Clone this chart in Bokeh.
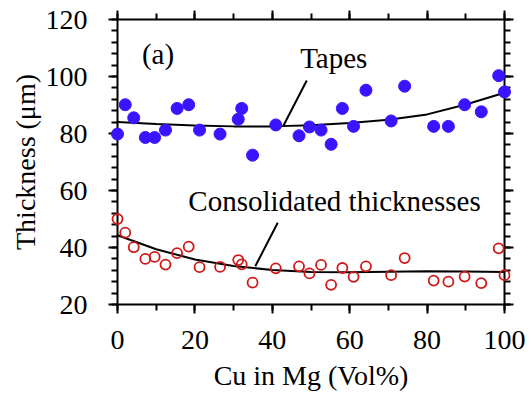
from bokeh.plotting import figure
from bokeh.models import (LinearAxis, SingleIntervalTicker, Range1d, Label,
                          CustomJSTickFormatter)
from bokeh.embed import file_html
from bokeh.resources import INLINE

# Cu content of each sample (vol%)
cu_vol = [0, 2.0, 4.2, 7.2, 9.6, 12.4, 15.4, 18.4, 21.2, 26.5, 31.2, 32.1, 34.9,
          40.9, 46.9, 49.6, 52.6, 55.2, 58.1, 61.0, 64.2, 70.7, 74.2, 81.7,
          85.5, 89.7, 94.0, 98.5, 100]

# Thickness of the cast tapes (um)
tape_thickness = [79.8, 90.1, 85.5, 78.6, 78.6, 81.2, 88.8, 90.1, 81.2, 79.8,
                  85.0, 88.8, 72.4, 83.0, 79.2, 82.3, 81.2, 76.2, 88.8, 82.5,
                  95.2, 84.4, 96.6, 82.5, 82.5, 90.1, 87.6, 100.3, 94.6]

# Thickness after consolidation (um)
consolidated_thickness = [50.0, 45.2, 40.1, 36.0, 36.7, 34.0, 38.0, 40.3, 33.1,
                          33.2, 35.6, 34.1, 27.7, 32.7, 33.4, 30.9, 33.9, 26.9,
                          32.8, 29.7, 33.4, 30.3, 36.3, 28.4, 28.0, 29.8, 27.5,
                          39.7, 30.3]

# Trend curves
fit_x = [0, 10, 20, 30, 40, 50, 60, 70, 80, 90, 100]
tape_fit = [84.0, 83.3, 82.8, 82.5, 82.5, 82.9, 83.7, 84.8, 86.7, 90.2, 94.3]
consolidated_fit = [44.3, 39.4, 35.8, 33.5, 32.1, 31.4, 31.3, 31.5, 31.7, 31.6, 31.4]

FONT = "Liberation Serif"

p = figure(frame_width=387, frame_height=285,
           min_border_left=117, min_border_right=27,
           min_border_top=19, min_border_bottom=95,
           x_range=Range1d(0, 100), y_range=Range1d(20, 120),
           output_backend="svg", toolbar_location=None,
           x_axis_location=None, y_axis_location=None)
p.grid.visible = False
p.outline_line_color = None
p.background_fill_color = "white"
p.border_fill_color = "white"


def style_axis(ax, ticker, labels=True):
    ax.ticker = ticker
    ax.axis_line_color = "black"
    ax.axis_line_width = 2
    ax.major_tick_line_color = "black"
    ax.major_tick_line_width = 2
    ax.minor_tick_line_color = "black"
    ax.minor_tick_line_width = 2
    ax.major_tick_in = 0
    ax.major_tick_out = 9
    ax.minor_tick_in = 0
    ax.minor_tick_out = 6
    ax.major_label_text_font = FONT
    ax.major_label_text_font_size = "28px"
    ax.major_label_text_color = "black"
    ax.axis_label_text_font = FONT
    ax.axis_label_text_font_size = "28px"
    ax.axis_label_text_font_style = "normal"
    ax.axis_label_text_color = "black"
    if not labels:
        ax.formatter = CustomJSTickFormatter(code="return ''")
        ax.major_label_text_font_size = "0px"
        ax.major_label_standoff = 0


xb = LinearAxis(axis_label="Cu in Mg (Vol%)")
style_axis(xb, SingleIntervalTicker(interval=20, num_minor_ticks=2))
xb.major_label_standoff = 17
xb.axis_label_standoff = 8
p.add_layout(xb, "below")

yl = LinearAxis(axis_label="Thickness (\u03bcm)")
style_axis(yl, SingleIntervalTicker(interval=20, num_minor_ticks=5))
yl.major_label_standoff = 21
yl.axis_label_standoff = 2
p.add_layout(yl, "left")

xt = LinearAxis()
style_axis(xt, SingleIntervalTicker(interval=20, num_minor_ticks=2), labels=False)
p.add_layout(xt, "above")

yr = LinearAxis()
style_axis(yr, SingleIntervalTicker(interval=20, num_minor_ticks=5), labels=False)
p.add_layout(yr, "right")

# Trend lines
p.line(fit_x, tape_fit, line_color="black", line_width=2)
p.line(fit_x, consolidated_fit, line_color="black", line_width=2)

# Data points (drawn on the overlay level so markers on the box edges stay whole)
p.scatter(cu_vol, tape_thickness, marker="circle", size=12,
          fill_color="#3a14ff", line_color="#3a14ff", level="overlay")
p.scatter(cu_vol, consolidated_thickness, marker="circle", size=10,
          fill_color=None, line_color="#d01818", line_width=1.8, level="overlay")

# Callout leaders
p.segment(x0=[42.9, 35.6], y0=[82.8, 33.4], x1=[48.9, 41.4], y1=[98.6, 48.7],
          line_color="black", line_width=2)

for txt, x, y in [("(a)", 6.3, 107.8),
                  ("Tapes", 47.2, 106.6),
                  ("Consolidated thicknesses", 18.3, 56.4)]:
    p.add_layout(Label(x=x, y=y, text=txt, text_font=FONT,
                       text_font_size="29px", text_color="black",
                       text_baseline="alphabetic", text_align="left"))

open("out.html", "w").write(file_html(p, INLINE))
